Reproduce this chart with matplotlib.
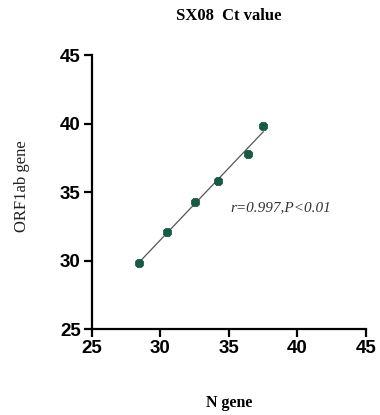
import matplotlib.pyplot as plt
import numpy as np

# Ct values
n_gene = [28.4, 30.5, 32.5, 34.2, 36.4, 37.5]
orf1ab_gene = [29.8, 32.1, 34.3, 35.8, 37.8, 39.8]
ticks = [25, 30, 35, 40, 45]

fig = plt.figure(figsize=(3.8, 4.15), dpi=100)
ax = fig.add_axes([0.242, 0.207, 0.721, 0.66])

# fitted line
k, b = np.polyfit(n_gene, orf1ab_gene, 1)
xs = np.array([min(n_gene), max(n_gene)])
ax.plot(xs, k * xs + b, color='#555555', lw=0.9, zorder=2)
ax.plot(n_gene, orf1ab_gene, linestyle='none', marker='8', ms=6.5,
        color='#145c47', mec='#0f4d3b', mew=0.5, zorder=3)

ax.set_xlim(25, 45)
ax.set_ylim(25, 45)
ax.set_xticks(ticks)
ax.set_yticks(ticks)
for s in ['top', 'right']:
    ax.spines[s].set_visible(False)
for s in ['left', 'bottom']:
    ax.spines[s].set_linewidth(1.6)
ax.tick_params(width=1.6, length=6, direction='out', pad=2)
for lab in ax.get_xticklabels() + ax.get_yticklabels():
    lab.set_fontfamily('Liberation Sans')
    lab.set_fontweight('bold')
    lab.set_fontsize(13.5)

ax.text(35.1, 33.9, 'r=0.997,P<0.01', family='Liberation Serif', style='italic',
        fontsize=11, va='center', ha='left', color='#333333')

fig.text(0.603, 0.962, 'SX08  Ct value', family='Liberation Serif', weight='bold',
         fontsize=12, ha='center', va='center')
fig.text(0.603, 0.03, 'N gene', family='Liberation Serif', weight='bold',
         fontsize=11.5, ha='center', va='center')
fig.text(0.058, 0.552, 'ORF1ab gene', family='Liberation Serif',
         fontsize=12, ha='center', va='center', rotation=90, color='#222222')

fig.savefig('out.png', dpi=100)
